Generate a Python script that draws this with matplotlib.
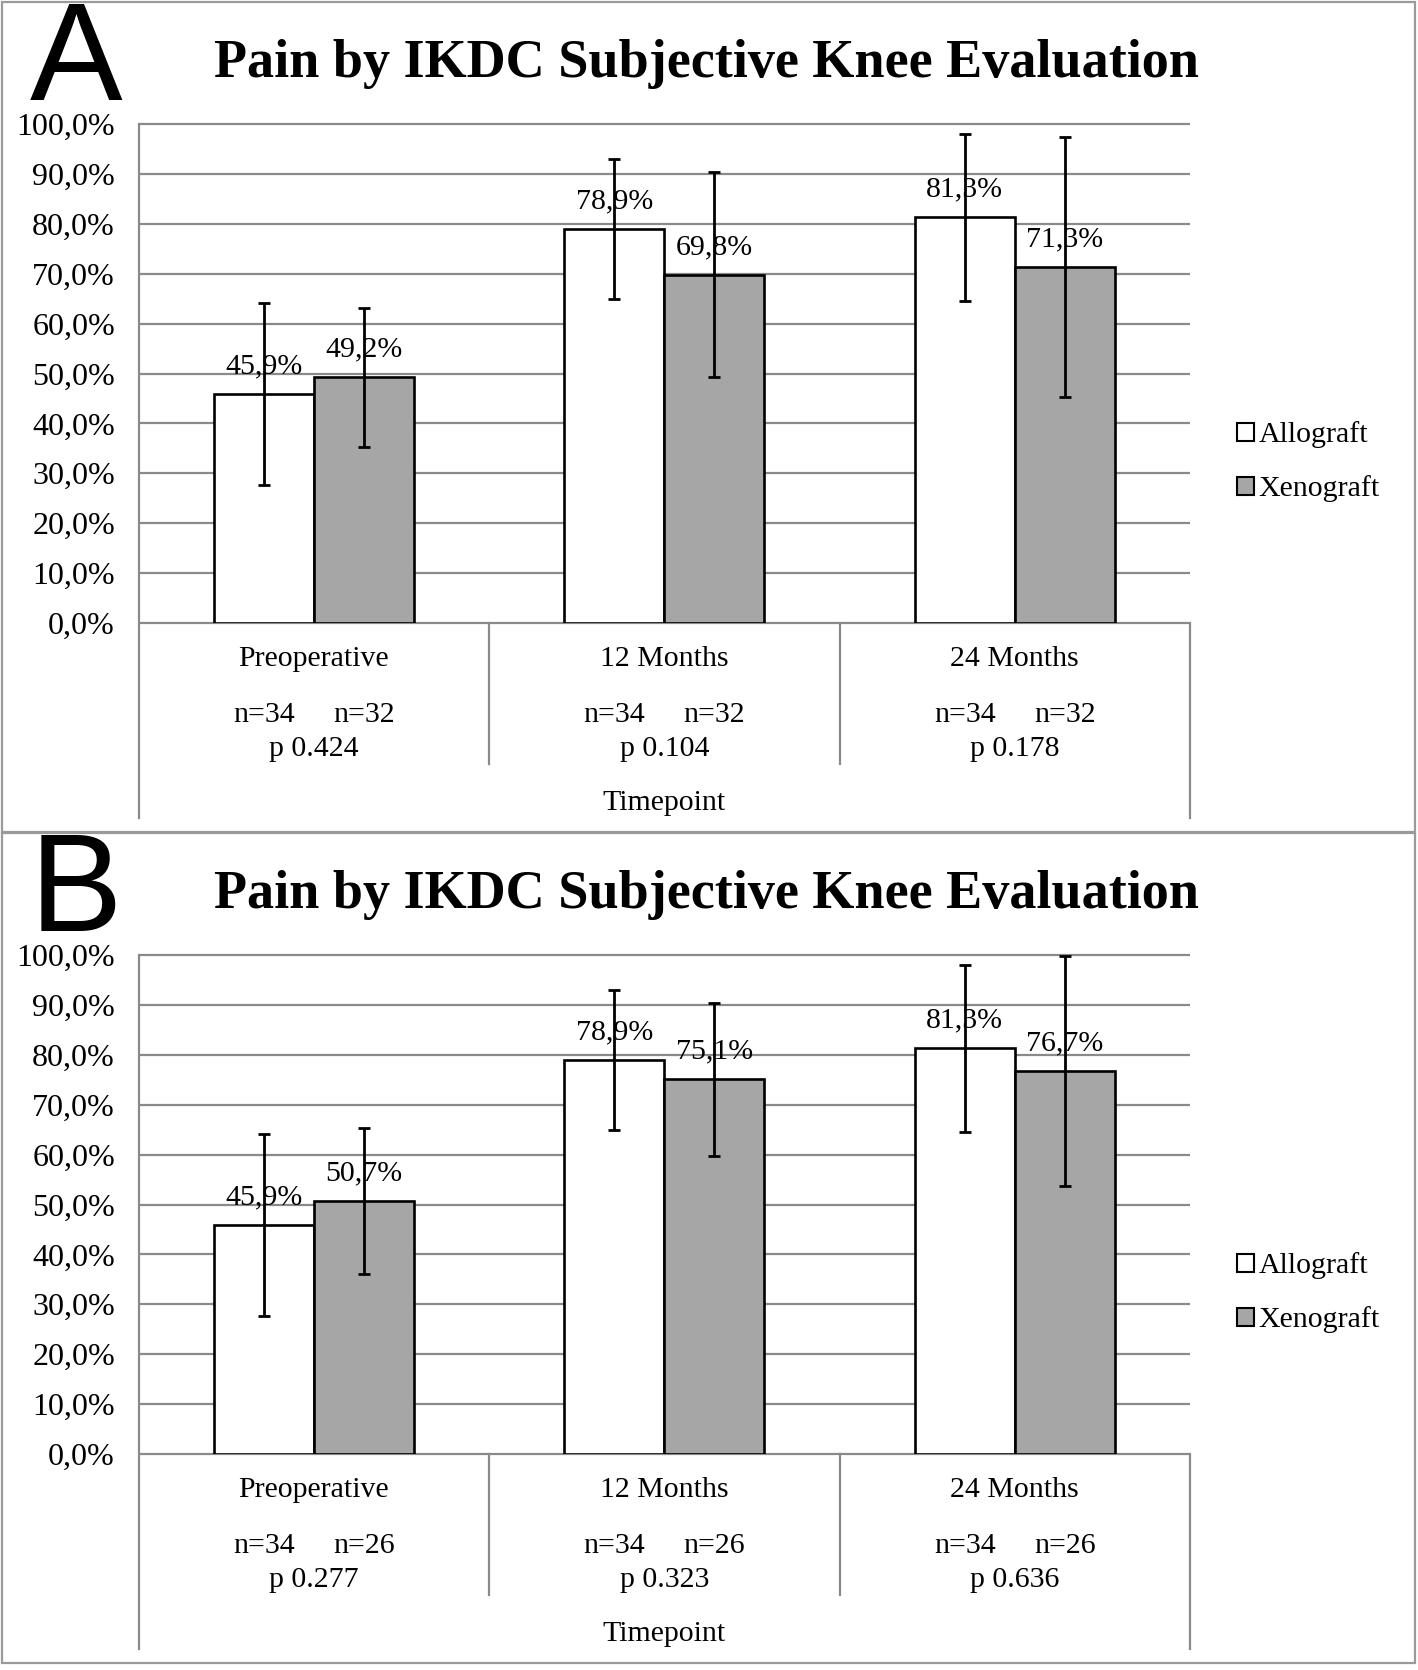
import matplotlib
matplotlib.use('Agg')
import matplotlib.pyplot as plt
from matplotlib.patches import Patch, Rectangle
from matplotlib.ticker import FuncFormatter

# --- data ---
categories = ['Preoperative', '12 Months', '24 Months']
allograft = [45.9, 78.9, 81.3]
allograft_sd = [18.3, 14.0, 16.7]
xeno_a = [49.2, 69.8, 71.3]
xeno_a_sd = [14.0, 20.5, 26.0]
xeno_b = [50.7, 75.1, 76.7]
xeno_b_sd = [14.7, 15.3, 23.0]
n_allo = 34
n_xeno_a = 32
n_xeno_b = 26
p_a = ['0.424', '0.104', '0.178']
p_b = ['0.277', '0.323', '0.636']
yticks = [0, 10, 20, 30, 40, 50, 60, 70, 80, 90, 100]

W, H = 1418, 1670
SERIF = ['Liberation Serif', 'DejaVu Serif']
GRID = '#8a8a8a'
GREY_BAR = '#a6a6a6'
FS = 21.5

fig = plt.figure(figsize=(W / 100, H / 100), dpi=100)


def fx(x):
    return x / W


def fy(y):
    return 1 - y / H


def panel(letter, off, xeno, xeno_sd, n_xeno, pvals):
    # outer frame of the panel
    fig.patches.append(Rectangle((fx(2), fy(off + 832)), fx(1413), (830) / H,
                                 transform=fig.transFigure, fill=False,
                                 edgecolor='#9a9a9a', lw=1.6))
    fig.text(fx(30), fy(off + 100), letter, fontsize=100, family='Liberation Sans',
             ha='left', va='baseline')
    fig.text(fx(706), fy(off + 77), 'Pain by IKDC Subjective Knee Evaluation',
             fontsize=39, fontweight='bold', family=SERIF, ha='center', va='baseline')

    zero = off + 623
    ax = fig.add_axes([fx(138.5), fy(zero), 1051.5 / W, 499 / H])
    ax.set_xlim(0, 3)
    ax.set_ylim(0, 100)
    for s in ax.spines.values():
        s.set_visible(False)

    ax.hlines(yticks, 0, 3, colors=GRID, lw=1.6, zorder=0.5, clip_on=False)

    w = 0.2857
    centers = [0.5, 1.5, 2.5]
    xa = [c - w / 2 for c in centers]
    xx = [c + w / 2 for c in centers]
    ax.bar(xa, allograft, width=w, color='white', edgecolor='black', lw=1.9, zorder=2)
    ax.bar(xx, xeno, width=w, color=GREY_BAR, edgecolor='black', lw=1.9, zorder=2)
    ax.errorbar(xa, allograft, yerr=allograft_sd, fmt='none', ecolor='black',
                elinewidth=2.0, capsize=4.5, capthick=2.0, zorder=3)
    ax.errorbar(xx, xeno, yerr=xeno_sd, fmt='none', ecolor='black',
                elinewidth=2.0, capsize=4.5, capthick=2.0, zorder=3)

    for x, v in list(zip(xa, allograft)) + list(zip(xx, xeno)):
        ax.annotate(f'{v:.1f}%'.replace('.', ','), (x, v), xytext=(0, 20),
                    textcoords='offset points', ha='center', va='center',
                    fontsize=FS, family=SERIF, zorder=4)

    ax.set_yticks(yticks)
    ax.yaxis.set_major_formatter(FuncFormatter(lambda v, _: f'{v:.1f}%'.replace('.', ',')))
    ax.tick_params(axis='y', length=0, pad=17, labelsize=23)
    for t in ax.get_yticklabels():
        t.set_family(SERIF)
    ax.set_xticks([])

    # category table under the axis
    tr = ax.transAxes
    ax.plot([0, 0], [1, -0.391], color=GRID, lw=1.6, transform=tr, clip_on=False)
    ax.plot([1, 1], [0, -0.391], color=GRID, lw=1.6, transform=tr, clip_on=False)
    for d in (1 / 3, 2 / 3):
        ax.plot([d, d], [0, -0.2826], color=GRID, lw=1.6, transform=tr, clip_on=False)

    xt = ax.get_xaxis_transform()
    for i, c in enumerate(categories):
        ax.text(centers[i], -0.072, c, transform=xt, ha='center', va='center',
                fontsize=FS, family=SERIF)
        ax.text(xa[i], -0.185, f'n={n_allo}', transform=xt, ha='center', va='center',
                fontsize=FS, family=SERIF)
        ax.text(xx[i], -0.185, f'n={n_xeno}', transform=xt, ha='center', va='center',
                fontsize=FS, family=SERIF)
        ax.text(centers[i], -0.253, f'p {pvals[i]}', transform=xt, ha='center',
                va='center', fontsize=FS, family=SERIF)
    ax.text(1.5, -0.360, 'Timepoint', transform=xt, ha='center', va='center',
            fontsize=FS, family=SERIF)

    handles = [Patch(facecolor='white', edgecolor='black', lw=1.5),
               Patch(facecolor=GREY_BAR, edgecolor='black', lw=1.5)]
    ax.legend(handles, ['Allograft', 'Xenograft'], loc='center left',
              bbox_to_anchor=(1.045, 0.323), frameon=False, handlelength=0.55,
              handleheight=0.55, handletextpad=0.15, labelspacing=0.9,
              borderpad=0, borderaxespad=0, prop={'family': SERIF, 'size': FS})


panel('A', 0, xeno_a, xeno_a_sd, n_xeno_a, p_a)
panel('B', 831, xeno_b, xeno_b_sd, n_xeno_b, p_b)

fig.savefig('out.png', dpi=100, facecolor='white')
